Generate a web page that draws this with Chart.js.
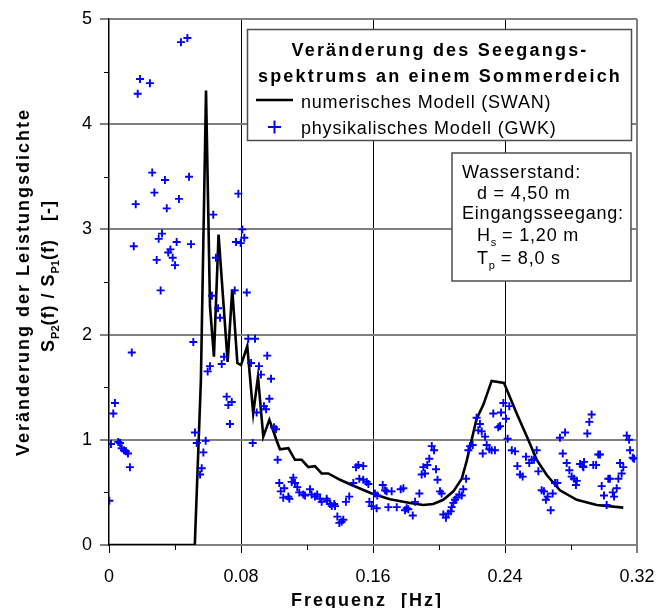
<!DOCTYPE html>
<html>
<head>
<meta charset="utf-8">
<script src="https://cdn.jsdelivr.net/npm/chart.js@4.4.1/dist/chart.umd.min.js"></script>
<style>
  html, body { margin: 0; padding: 0; background: #fff; }
  canvas { display: block; }
</style>
</head>
<body>
<canvas id="spektrum" width="656" height="608"></canvas>
<script>
// numerisches Modell (SWAN)
var swanFreq = [0, 0.052, 0.0557, 0.0588, 0.0612, 0.0636, 0.0664, 0.0719, 0.0747, 0.0778, 0.080, 0.0838, 0.0874, 0.0903,
    0.0935, 0.0972, 0.1012, 0.1036, 0.1087, 0.1127, 0.1168, 0.1208, 0.1248, 0.1289, 0.1329, 0.14, 0.1471, 0.1592,
    0.1703, 0.1824, 0.1905, 0.1965, 0.2026, 0.2087, 0.2138, 0.2168, 0.2198, 0.2228, 0.2268, 0.2319, 0.2394, 0.2471,
    0.2541, 0.2592, 0.2653, 0.2733, 0.2835, 0.2956, 0.3117];
var swanRatio = [0, 0, 1.57, 4.32, 2.27, 1.79, 2.95, 1.74, 2.43, 1.73, 1.71, 1.89, 1.25, 1.6,
    1.03, 1.19, 1.01, 0.91, 0.92, 0.81, 0.81, 0.74, 0.75, 0.68, 0.68, 0.62, 0.57, 0.49,
    0.434, 0.40, 0.38, 0.39, 0.43, 0.51, 0.63, 0.80, 1.0, 1.2, 1.33, 1.56, 1.54, 1.25,
    1.0, 0.81, 0.665, 0.52, 0.43, 0.38, 0.355];

// physikalisches Modell (GWK)
var gwkFreq = [0.0002, 0.0012, 0.0026, 0.0036, 0.0056, 0.0067, 0.0077, 0.0091, 0.0103, 0.0115, 0.0127, 0.0138, 0.015,
    0.0162, 0.0174, 0.0188, 0.0248, 0.0262, 0.0275, 0.0289, 0.0301, 0.0313, 0.0321, 0.0339, 0.035, 0.0359, 0.0372,
    0.0386, 0.04, 0.041, 0.0424, 0.0436, 0.0475, 0.0485, 0.0497, 0.0511, 0.0521, 0.0532, 0.0552, 0.0562, 0.0572,
    0.0586, 0.0598, 0.0612, 0.0624, 0.0632, 0.0648, 0.0661, 0.0673, 0.0683, 0.0697, 0.0713, 0.0723, 0.0733, 0.0744,
    0.0762, 0.077, 0.0784, 0.0798, 0.0808, 0.082, 0.0835, 0.0844, 0.0861, 0.0871, 0.0885, 0.0895, 0.0909, 0.0921,
    0.0939, 0.0952, 0.0959, 0.0972, 0.0982, 0.1, 0.1012, 0.1022,
    0.1032, 0.1041, 0.1056, 0.1062, 0.1087, 0.1093, 0.1107, 0.1117, 0.1127, 0.1141, 0.1153, 0.1178, 0.1188, 0.1218,
    0.1228, 0.1248, 0.1262, 0.1279, 0.1289, 0.1319, 0.1323, 0.1339, 0.135, 0.1365, 0.137, 0.1384, 0.1396, 0.141,
    0.142, 0.1436, 0.1456, 0.1481, 0.1497, 0.1511, 0.1517, 0.1541, 0.1541, 0.1562, 0.1572, 0.1578, 0.1592, 0.1612,
    0.1622, 0.1626, 0.1659, 0.1673, 0.1683, 0.1693, 0.1713, 0.1744, 0.1768, 0.1784, 0.1794, 0.1804, 0.1814, 0.1841,
    0.1855, 0.1881, 0.1895, 0.1905, 0.1915, 0.1929, 0.1941, 0.1956, 0.197, 0.1982, 0.1991, 0.2006, 0.2016,
    0.2026, 0.2042, 0.2056, 0.2071, 0.2077, 0.2087, 0.2097, 0.2107, 0.2123, 0.2138, 0.2147, 0.2164, 0.2178, 0.2188,
    0.2204, 0.2228, 0.2238, 0.2248, 0.2259, 0.2265, 0.2279, 0.2289, 0.2305, 0.2319, 0.2329, 0.2339, 0.2359, 0.237,
    0.2376, 0.239, 0.2406, 0.2416, 0.2426, 0.2441, 0.2461, 0.2475, 0.2491, 0.2507, 0.2527, 0.2547, 0.2562, 0.2576,
    0.2592, 0.2602, 0.2622, 0.2636, 0.2648, 0.2659, 0.2677, 0.2689, 0.2703, 0.2717, 0.2733, 0.275, 0.2764, 0.2774,
    0.279, 0.2804, 0.2818, 0.283, 0.2835, 0.2855, 0.2871, 0.2875, 0.2879, 0.2899, 0.2911, 0.2925, 0.2935, 0.2952,
    0.2965, 0.2976, 0.2986, 0.3, 0.3016, 0.3026, 0.3036, 0.3053, 0.3061, 0.3077, 0.3087, 0.3097, 0.3107, 0.3117,
    0.3138, 0.3152, 0.3158, 0.3174, 0.3182];
var gwkRatio = [0.42, 0.96, 1.25, 1.35, 0.98, 0.97, 0.92, 0.90, 0.89, 0.87, 0.74, 1.83, 2.84,
    3.24, 4.29, 4.43, 4.39, 3.54, 3.35, 2.71, 2.91, 2.42, 2.96, 3.47, 3.20, 2.78, 2.81,
    2.73, 2.66, 2.88, 3.29, 4.78, 4.82, 3.50, 2.86, 1.93, 1.07, 0.97, 0.67, 0.73, 0.88,
    0.99, 1.65, 1.70, 2.37, 3.14, 2.73, 2.25, 2.16, 1.72, 1.79, 1.41, 1.33, 1.15, 1.36,
    2.42, 2.88, 3.34, 2.87, 3.00, 2.92, 2.40, 1.96, 1.73, 0.97, 1.96, 1.26, 1.70, 1.62,
    1.32, 1.29, 1.80, 1.39, 1.58, 1.12, 1.10, 0.81,
    0.59, 0.51, 0.45, 0.54, 0.46, 0.44, 0.60, 0.64, 0.59, 0.55, 0.50, 0.48, 0.47, 0.53,
    0.48, 0.46, 0.48, 0.44, 0.41, 0.44, 0.42, 0.39, 0.37, 0.39, 0.37, 0.27, 0.21, 0.22,
    0.24, 0.41, 0.46, 0.59, 0.74, 0.76, 0.63, 0.75, 0.62, 0.60, 0.58, 0.41, 0.37, 0.49,
    0.35, 0.47, 0.57, 0.52, 0.51, 0.36, 0.51, 0.36, 0.53, 0.54, 0.33, 0.35, 0.34, 0.28,
    0.41, 0.49, 0.67, 0.74, 0.68, 0.76, 0.82, 0.94, 0.90, 0.72, 0.62, 0.51, 0.49,
    0.29, 0.26, 0.30, 0.32, 0.36, 0.40, 0.43, 0.45, 0.48, 0.47, 0.53, 0.63, 0.90, 0.94,
    0.95, 1.21, 1.09, 1.15, 1.08, 0.87, 1.03, 0.95, 0.91, 0.90, 1.25, 0.90, 1.12, 1.13,
    1.26, 1.35, 1.20, 1.01, 1.32, 0.90, 0.89, 0.75, 0.67, 0.65, 0.84, 0.78, 0.81, 0.81,
    0.90, 0.70, 0.52, 0.51, 0.43, 0.46, 0.33, 0.49, 0.59, 0.59, 1.02, 0.87, 1.07, 0.78,
    0.71, 0.65, 0.63, 0.57, 0.61, 0.77, 0.75, 0.74, 0.79, 1.06, 1.17, 1.24, 0.76, 0.76,
    0.86, 0.86, 0.56, 0.47, 0.38, 0.63, 0.63, 0.50, 0.46, 0.54, 0.63, 0.78, 0.68, 0.74,
    1.04, 1.00, 0.90, 0.83, 0.82];

var freqTicks = [0, 0.08, 0.16, 0.24, 0.32];
var freqMinor = [0.04, 0.12, 0.20, 0.28];
var ratioTicks = [0, 1, 2, 3, 4, 5];
var ratioMinor = [0.5, 1.5, 2.5, 3.5, 4.5];

var FONT = '"Liberation Sans", Arial, sans-serif';
var BLUE = '#0000ff';

var toPoints = (xs, ys) => xs.map((x, i) => ({ x: x, y: ys[i] }));

// text made of pieces, some of them as subscripts: [[text, isSub], ...]
var setPartFont = (ctx, sub, size, weight, spacing) => {
    ctx.font = weight + ' ' + (sub ? Math.round(size * 0.6) : size) + 'px ' + FONT;
    ctx.letterSpacing = (sub ? 0 : spacing) + 'px';
};
var drawParts = (ctx, parts, x, y, size, weight, spacing, align) => {
    var w = 0;
    parts.forEach(p => {
        setPartFont(ctx, p[1], size, weight, spacing);
        w += ctx.measureText(p[0]).width;
    });
    var cx = align === 'center' ? x - w / 2 : x;
    ctx.textAlign = 'left';
    ctx.textBaseline = 'alphabetic';
    parts.forEach(p => {
        setPartFont(ctx, p[1], size, weight, spacing);
        ctx.fillText(p[0], cx, y + (p[1] ? size * 0.28 : 0));
        cx += ctx.measureText(p[0]).width;
    });
    ctx.letterSpacing = '0px';
};

var box = (ctx, x, y, w, h) => {
    ctx.fillStyle = '#fff';
    ctx.fillRect(x, y, w, h);
    ctx.strokeStyle = '#4d4d4d';
    ctx.lineWidth = 1.5;
    ctx.strokeRect(x, y, w, h);
};

var overlay = {
    id: 'overlay',
    afterDraw: (chart) => {
        var ctx = chart.ctx;
        var area = chart.chartArea;
        var xs = chart.scales.x, ys = chart.scales.y;
        ctx.save();
        ctx.fillStyle = '#000';

        // short ticks between the labelled ones
        ctx.strokeStyle = '#000';
        ctx.lineWidth = 1;
        ctx.beginPath();
        freqMinor.forEach(v => {
            var px = Math.round(xs.getPixelForValue(v)) + 0.5;
            ctx.moveTo(px, area.bottom);
            ctx.lineTo(px, area.bottom + 5);
        });
        ratioMinor.forEach(v => {
            var py = Math.round(ys.getPixelForValue(v)) + 0.5;
            ctx.moveTo(area.left - 5, py);
            ctx.lineTo(area.left, py);
        });
        ctx.stroke();

        // axis titles
        var midY = (area.top + area.bottom) / 2;
        ctx.fillStyle = '#000';
        ctx.save();
        ctx.translate(28.5, midY);
        ctx.rotate(-Math.PI / 2);
        drawParts(ctx, [['Veränderung der Leistungsdichte', false]], 0, 0, 18, 'bold', 2, 'center');
        ctx.restore();
        ctx.save();
        ctx.translate(53.5, midY - 6);
        ctx.rotate(-Math.PI / 2);
        drawParts(ctx, [['S', false], ['P2', true], ['(f) / S', false], ['P1', true], ['(f)   [-]', false]],
            0, 0, 18, 'bold', 1, 'center');
        ctx.restore();
        drawParts(ctx, [['Frequenz  [Hz]', false]], (area.left + area.right) / 2 - 6, 606, 18, 'bold', 2, 'center');

        // legend
        box(ctx, 247.5, 29.5, 384, 111);
        ctx.fillStyle = '#000';
        drawParts(ctx, [['Veränderung des Seegangs-', false]], 440, 56, 18, 'bold', 2.2, 'center');
        drawParts(ctx, [['spektrums an einem Sommerdeich', false]], 440, 82, 18, 'bold', 2.2, 'center');
        ctx.strokeStyle = '#000';
        ctx.lineWidth = 2.5;
        ctx.beginPath();
        ctx.moveTo(256, 100);
        ctx.lineTo(293, 100);
        ctx.stroke();
        drawParts(ctx, [['numerisches Modell (SWAN)', false]], 301, 108, 18, 'normal', 0.8, 'left');
        ctx.strokeStyle = BLUE;
        ctx.lineWidth = 2;
        ctx.beginPath();
        ctx.moveTo(268, 127);
        ctx.lineTo(281, 127);
        ctx.moveTo(274.5, 120.5);
        ctx.lineTo(274.5, 133.5);
        ctx.stroke();
        drawParts(ctx, [['physikalisches Modell (GWK)', false]], 301, 134, 18, 'normal', 0.8, 'left');

        // boundary conditions
        box(ctx, 452, 153, 179, 128);
        ctx.fillStyle = '#000';
        drawParts(ctx, [['Wasserstand:', false]], 462, 178, 18, 'normal', 0.8, 'left');
        drawParts(ctx, [['d = 4,50 m', false]], 477, 199, 18, 'normal', 0.8, 'left');
        drawParts(ctx, [['Eingangsseegang:', false]], 462, 219, 18, 'normal', 0.8, 'left');
        drawParts(ctx, [['H', false], ['s', true], [' = 1,20 m', false]], 477, 241, 18, 'normal', 0.8, 'left');
        drawParts(ctx, [['T', false], ['p', true], [' = 8,0 s', false]], 477, 264, 18, 'normal', 0.8, 'left');

        ctx.restore();
    }
};

var chart = new Chart(document.getElementById('spektrum').getContext('2d'), {
    type: 'scatter',
    data: {
        datasets: [{
            label: 'physikalisches Modell (GWK)',
            data: toPoints(gwkFreq, gwkRatio),
            pointStyle: 'cross',
            pointRadius: 4,
            pointBorderWidth: 1.9,
            borderColor: BLUE,
            backgroundColor: BLUE,
            showLine: false
        }, {
            label: 'numerisches Modell (SWAN)',
            data: toPoints(swanFreq, swanRatio),
            showLine: true,
            borderColor: '#000',
            borderWidth: 2.6,
            pointRadius: 0,
            tension: 0,
            fill: false
        }]
    },
    options: {
        responsive: false,
        animation: false,
        devicePixelRatio: 1,
        layout: { padding: { left: 0, top: 19, right: 19, bottom: 0 } },
        plugins: {
            legend: { display: false },
            tooltip: { enabled: false }
        },
        scales: {
            x: {
                type: 'linear',
                min: 0,
                max: 0.32,
                afterBuildTicks: (s) => { s.ticks = freqTicks.map(v => ({ value: v })); },
                // labels at the ends may overhang; the outer padding already leaves room
                afterFit: (s) => { s.height = 63; s.paddingLeft = 0; s.paddingRight = 0; },
                ticks: {
                    color: '#000',
                    font: { family: FONT, size: 18 },
                    padding: 13,
                    maxRotation: 0,
                    callback: (v) => v === 0 ? '0' : v.toFixed(2)
                },
                grid: {
                    color: (c) => c.tick.value === 0 ? 'rgba(0,0,0,0)' : (c.tick.value >= 0.32 ? '#808080' : '#000'),
                    lineWidth: (c) => c.tick.value >= 0.32 ? 2 : 1,
                    tickColor: '#000',
                    tickWidth: 1,
                    tickLength: 8
                },
                border: { display: false }
            },
            y: {
                min: 0,
                max: 5,
                afterBuildTicks: (s) => { s.ticks = ratioTicks.map(v => ({ value: v })); },
                afterFit: (s) => { s.width = 109; s.paddingTop = 0; s.paddingBottom = 0; },
                ticks: {
                    color: '#000',
                    font: { family: FONT, size: 18 },
                    padding: 8
                },
                grid: {
                    color: '#808080',
                    lineWidth: 2,
                    tickColor: '#000',
                    tickWidth: 1,
                    tickLength: 9
                },
                border: { display: true, color: '#000', width: 1.5 }
            }
        }
    },
    plugins: [overlay]
});
</script>
</body>
</html>
